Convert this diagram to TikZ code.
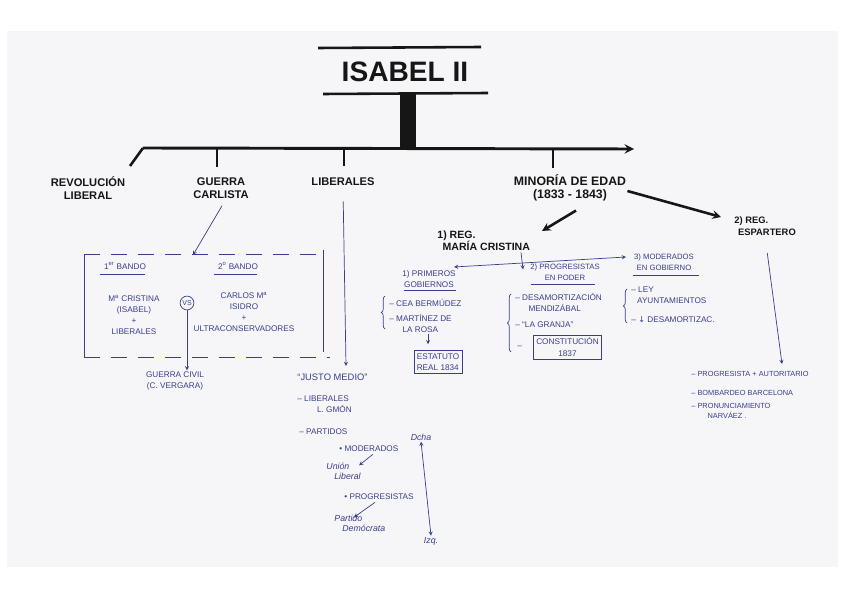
\documentclass[tikz,border=0pt]{standalone}
\usepackage{fontspec}
\setmainfont{Liberation Sans}
\newfontfamily\symfont{DejaVu Sans}
\usepackage{tikz}
\usetikzlibrary{shapes,arrows,positioning,fit,backgrounds,calc,decorations.pathreplacing}
\definecolor{ink}{RGB}{58,62,140}
\definecolor{marker}{RGB}{22,22,22}
\definecolor{paper}{RGB}{246,246,249}

\begin{document}
\begin{tikzpicture}[x=0.03cm, y=-0.03cm,
    head/.style={font=\bfseries\fontsize{9.5}{11}\selectfont, text=marker, align=center, inner sep=1pt},
    note/.style={font=\fontsize{7}{9.5}\selectfont, text=ink, align=left, inner sep=1pt},
    hand/.style={font=\itshape\fontsize{7.5}{8.5}\selectfont, text=ink, align=left, inner sep=1pt},
    boxed/.style={note, draw=ink, semithick, inner sep=2.5pt},
    stem/.style={line width=2.2pt, marker},
    bigarrow/.style={->, line width=2.2pt, marker, >=stealth},
    arrow/.style={->, semithick, ink, >=stealth},
    curly/.style={ink, semithick, decorate, decoration={brace, amplitude=3pt}}
]
    \useasboundingbox (0,0) rectangle (848,599);
    \fill[paper] (7,31) rectangle (838,567);

    % title
    \node[font=\bfseries\fontsize{24}{26}\selectfont, text=marker] (isabel) at (405,72) {ISABEL II};
    \draw[stem] (318,48) -- (481,47);
    \draw[stem] (323,94) -- (488,93);
    \fill[marker] (400,94) rectangle (416,148);

    % time line
    \coordinate (axL) at (143,148);
    \coordinate (axR) at (634,149);
    \draw[bigarrow, line width=2.5pt] (axL) -- (axR);
    \draw[stem] (axL) -- (130,166);
    \draw[stem] (217,148) -- (217,167);
    \draw[stem] (344,148) -- (344,166);
    \draw[stem] (553,149) -- (553,168);

    \node[head] (revol) at (88,188) {REVOLUCIÓN\\LIBERAL};
    \node[head] (guerra) at (221,188) {GUERRA\\CARLISTA};
    \node[head] (liberales) at (343,182) {LIBERALES};
    \node[head, font=\bfseries\fontsize{10.5}{11}\selectfont] (minoria) at (570,188) {MINORÍA DE EDAD\\(1833 - 1843)};

    % guerra carlista
    \coordinate (toBox) at (193,255);
    \draw[arrow] ($(guerra.south)+(1,6)$) -- (toBox);
    \draw[ink, semithick, dash pattern=on 14pt off 9pt] (84,254) -- (325,254);
    \draw[ink, semithick, dash pattern=on 14pt off 9pt] (84,357) -- (330,357);
    \draw[ink, semithick] (84,254) -- (84,357);
    \draw[ink, semithick] (323,250) -- (323,352);

    \node[note] (bando1) at (125,266) {1\textsuperscript{er} BANDO};
    \draw[ink] ($(bando1.south west)+(-3,3)$) -- ($(bando1.south east)+(-2,3)$);
    \node[note, align=center] (cristina) at (134,315) {M\textsuperscript{a} CRISTINA\\(ISABEL)\\+\\LIBERALES};
    \node[note] (bando2) at (238,266) {2\textsuperscript{o} BANDO};
    \draw[ink] ($(bando2.south west)+(-3,3)$) -- ($(bando2.south east)+(-2,3)$);
    \node[note, align=center] (carlos) at (244,312) {CARLOS M\textsuperscript{a}\\ISIDRO\\+\\ULTRACONSERVADORES};

    \node[draw=ink, circle, semithick, inner sep=1pt, font=\fontsize{6}{7}\selectfont, text=ink] (vs) at (187,303) {VS};
    \node[note, align=center] (civil) at (175,381) {GUERRA CIVIL\\(C. VERGARA)};
    \draw[arrow] (vs.south) -- (vs.south |- civil.north);

    % liberales
    \coordinate (libEnd) at (346,366);
    \draw[arrow, shorten <=12pt] (liberales.south) -- (libEnd);
    \node[note, anchor=west, font=\fontsize{8}{9.5}\selectfont] (justo) at (296,377) {“JUSTO MEDIO”};
    \node[note, anchor=north west] (libs) at (296,394) {– LIBERALES\\\hspace{2.4em}L. GMÓN};
    \node[note, anchor=west] (partidos) at (298,432) {– PARTIDOS};
    \node[note, anchor=west] (moderados) at (338,449) {• MODERADOS};
    \node[hand] (union) [anchor=west] at (325,471) {Unión\\\hspace{0.9em}Liberal};
    \draw[arrow] ($(moderados.south)+(4,1)$) -- ($(union.north east)+(-3,4)$);
    \node[note, anchor=west] (progres) at (343,497) {• PROGRESISTAS};
    \node[hand, anchor=west] (democrata) at (333,523) {Partido\\\hspace{0.9em}Demócrata};
    \draw[arrow] ($(progres.south)+(-4,1)$) -- ($(democrata.north)+(-6,4)$);
    \node[hand] (dcha) at (421,437) {Dcha};
    \node[hand] (izq) at (431,541) {Izq.};
    \draw[arrow, <->] (dcha.south) -- (izq.north);

    % minoria de edad
    \node[head, anchor=west, align=left, font=\bfseries\fontsize{9}{10.5}\selectfont] (regmc) at (436,241) {1) REG.\\\hspace{0.5em}MARÍA CRISTINA};
    \node[head, anchor=west, align=left, font=\bfseries\fontsize{8}{10}\selectfont] (regesp) at (733,226) {2) REG.\\\hspace{0.4em}ESPARTERO};
    \coordinate (mcTip) at (542,231);
    \draw[bigarrow] ($(minoria.south)+(6,8)$) -- (mcTip);
    \draw[bigarrow] ($(minoria.east)+(0,3)$) -- ($(regesp.west)+(-12,-9)$);

    \node[note, align=center] (gob1) at (429,279) {1) PRIMEROS\\GOBIERNOS};
    \draw[ink] ($(gob1.south west)+(3,1)$) -- ($(gob1.south east)+(-1,1)$);
    \node[note, align=center, font=\fontsize{6.6}{9}\selectfont] (gob2) at (565,272) {2) PROGRESISTAS\\EN PODER};
    \draw[ink] ($(gob2.south west)+(2,3)$) -- ($(gob2.south east)+(-6,3)$);
    \node[note, align=center, font=\fontsize{6.6}{9}\selectfont] (gob3) at (664,262) {3) MODERADOS\\EN GOBIERNO};
    \draw[ink] ($(gob3.south west)+(0,4)$) -- ($(gob3.south east)+(4,4)$);
    \coordinate (brL) at (454,267);
    \coordinate (brR) at (626,257);
    \draw[arrow, <->] (brL) -- (brR);
    \draw[arrow] ($(regmc.south west)+(85,0)$) -- ($(regmc.south west)+(87,17)$);

    \node[note, anchor=west] (cea) at (388,303) {– CEA BERMÚDEZ};
    \node[note, anchor=north west] (martinez) at (388,313) {– MARTÍNEZ DE\\\hspace{1.6em}LA ROSA};
    \draw[curly] (385,329) -- (385,296);
    \node[boxed, align=left] (estatuto) at (438,362) {ESTATUTO\\REAL 1834};
    \draw[arrow] ($(estatuto.north)+(-10,-16)$) -- ($(estatuto.north)+(-10,-6)$);

    \node[note, anchor=north west] (desam) at (514,292) {– DESAMORTIZACIÓN\\\hspace{1.6em}MENDIZÁBAL};
    \node[note, anchor=west] (granja) at (514,325) {– “LA GRANJA”};
    \node[note, anchor=west] (guion) at (516,347) {–};
    \node[boxed, align=center, anchor=west] (const) at (533,347) {CONSTITUCIÓN\\1837};
    \draw[curly] (511,352) -- (511,294);

    \node[note, anchor=north west] (ley) at (630,285) {– LEY\\\hspace{0.7em}AYUNTAMIENTOS};
    \node[note, anchor=west] (desam2) at (630,320) {– {\symfont ↓} DESAMORTIZAC.};
    \draw[curly] (627,323) -- (627,289);

    % espartero
    \coordinate (espEnd) at (782,364);
    \draw[arrow, shorten <=14pt] (regesp.south) -- (espEnd);
    \node[note, anchor=west, font=\fontsize{6.3}{8.5}\selectfont] (esp1) at (690,374) {– PROGRESISTA + AUTORITARIO};
    \node[note, anchor=west, font=\fontsize{6.3}{8.5}\selectfont] (esp2) at (690,393) {– BOMBARDEO BARCELONA};
    \node[note, anchor=north west, font=\fontsize{6.3}{8.5}\selectfont] (esp3) at (690,402) {– PRONUNCIAMIENTO\\\hspace{2.2em}NARVÁEZ .};
\end{tikzpicture}
\end{document}
